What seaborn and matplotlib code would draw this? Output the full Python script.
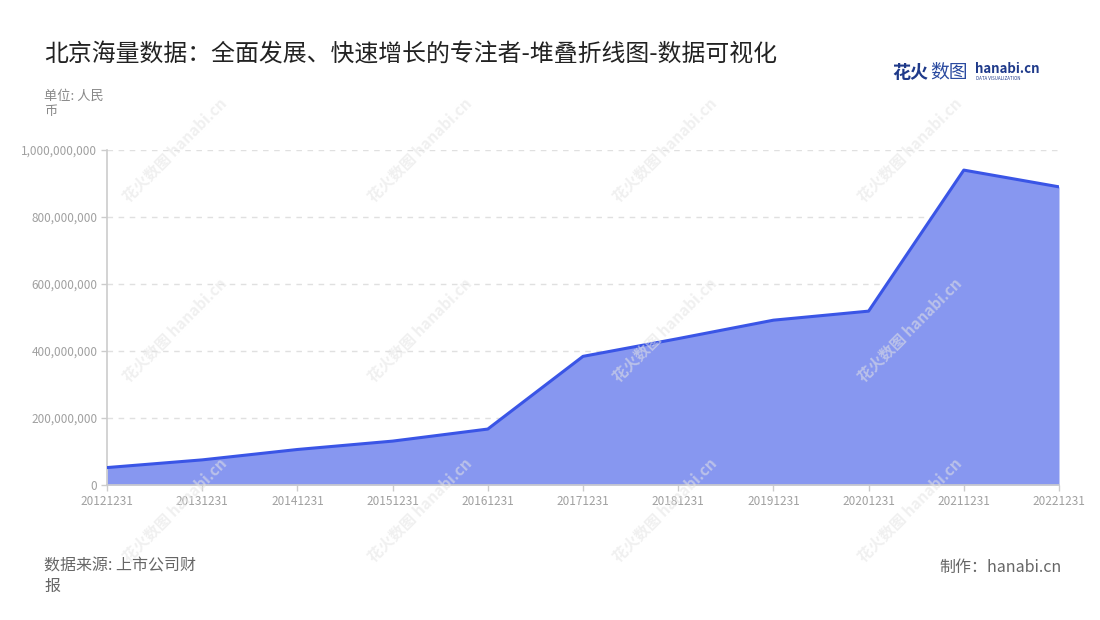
import matplotlib
matplotlib.use("Agg")
import matplotlib.pyplot as plt
import seaborn as sns
import pandas as pd
from matplotlib.ticker import FuncFormatter

dates = ["20121231", "20131231", "20141231", "20151231", "20161231", "20171231",
         "20181231", "20191231", "20201231", "20211231", "20221231"]
values = [52e6, 75e6, 106e6, 131e6, 167e6, 384e6, 437e6, 492e6, 519e6, 940e6, 890e6]
title = "北京海量数据：全面发展、快速增长的专注者-堆叠折线图-数据可视化"
unit_label = "单位: 人民\n币"
source_label = "数据来源: 上市公司财\n报"
credit_label = "制作：hanabi.cn"

sns.set_theme(style="white")
plt.rcParams['font.family'] = ['Noto Sans CJK SC', 'DejaVu Sans']

df = pd.DataFrame({"idx": range(len(dates)), "date": dates, "value": values})

fig = plt.figure(figsize=(11, 6.2), dpi=100)
ax = fig.add_axes([107/1100, 1 - 485/620, (1059-107)/1100, (485-150)/620])

line_color = "#3a55e6"
fill_color = "#8797f0"
ax.fill_between(df["idx"], 0, df["value"], color=fill_color, linewidth=0, zorder=2)
sns.lineplot(data=df, x="idx", y="value", ax=ax, color=line_color, linewidth=2.2, zorder=3)

ax.set_xlim(0, len(dates) - 1)
ax.set_ylim(0, 1e9)
ax.set_xticks(df["idx"])
ax.set_xticklabels(dates)
ax.set_yticks([0, 2e8, 4e8, 6e8, 8e8, 1e9])
ax.yaxis.set_major_formatter(FuncFormatter(lambda v, p: f"{int(v):,}"))
ax.set_xlabel("")
ax.set_ylabel("")
for s in ["top", "right"]:
    ax.spines[s].set_visible(False)
ax.spines["left"].set_color("#cccccc")
ax.spines["left"].set_linewidth(1.2)
ax.spines["bottom"].set_color("#cccccc")
ax.spines["bottom"].set_linewidth(1.2)
ax.tick_params(axis="both", colors="#cccccc", labelcolor="#a0a0a0", labelsize=8.5,
               length=4, width=1, direction="out", left=True, bottom=True, pad=3)
ax.yaxis.grid(True, linestyle=(0, (4, 4)), color="#e0e0e0", linewidth=1)
ax.set_axisbelow(True)
ax.patch.set_alpha(0)

# watermarks
for wx in [175, 420, 665, 910]:
    for wy in [150, 330, 510]:
        fig.text(wx/1100, 1 - wy/620, "花火数图 hanabi.cn", rotation=45, fontsize=11,
                 color="#e4e4e4", alpha=0.55, ha="center", va="center", zorder=0,
                 fontweight="bold")

fig.text(44/1100, 1 - 55/620, title, fontsize=17.2, color="#222222", ha="left", va="center")
fig.text(44/1100, 1 - 90/620, unit_label, fontsize=9.5, color="#888888", ha="left", va="top",
         linespacing=1.25)
fig.text(44/1100, 1 - 557/620, source_label, fontsize=11.5, color="#666666", ha="left", va="top",
         linespacing=1.3)
fig.text(1062/1100, 1 - 567/620, credit_label, fontsize=11.5, color="#666666", ha="right", va="center")

# logo
fig.text(892/1100, 1 - 72/620, "花火", fontsize=13, color="#1f3a8a", ha="left", va="center", fontweight="bold")
fig.text(930/1100, 1 - 72/620, "数图", fontsize=13.5, color="#2a4aa0", ha="left", va="center")
fig.text(975/1100, 1 - 69/620, "hanabi.cn", fontsize=9.5, color="#1f3a8a", ha="left", va="center", fontweight="bold")
fig.text(976/1100, 1 - 79/620, "DATA VISUALIZATION", fontsize=3.2, color="#1f3a8a", ha="left", va="center")

fig.savefig("out.png", dpi=100)
